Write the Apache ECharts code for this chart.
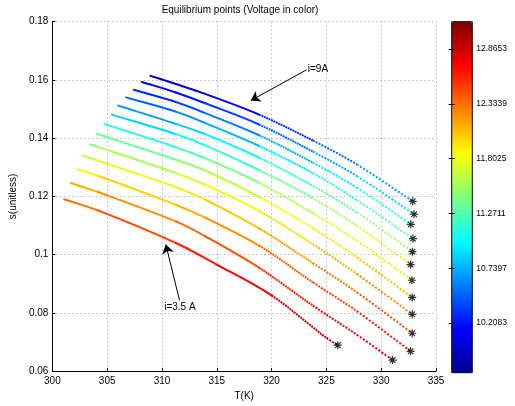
<!DOCTYPE html>
<html><head><meta charset="utf-8">
<script src="https://cdn.jsdelivr.net/npm/echarts@6/dist/echarts.min.js"></script>
<style>html,body{margin:0;padding:0;background:#fff}#c{width:515px;height:406px}</style>
</head><body><div id="c"></div>
<script>
// Temperature (K) of sampled points along each equilibrium curve (top curve i=9A ... bottom curve i=3.5A)
const curveT = [
  [308.95, 311.27, 313.94, 318.86, 323.76, 327.77, 332.88],
  [308.17, 311.27, 313.94, 318.86, 323.76, 327.77, 333.00],
  [307.43, 311.27, 313.94, 318.86, 323.76, 327.77, 332.70],
  [306.74, 311.27, 313.94, 318.86, 323.76, 327.77, 332.90],
  [306.00, 311.27, 313.94, 318.86, 323.76, 327.77, 332.85],
  [305.44, 311.27, 313.94, 318.86, 323.76, 327.77, 332.68],
  [304.75, 311.27, 313.94, 318.86, 323.76, 327.77, 332.80],
  [304.04, 311.27, 313.94, 318.86, 323.76, 327.77, 332.83],
  [303.44, 304.16, 311.27, 313.94, 318.86, 323.76, 327.77, 332.83],
  [302.79, 304.16, 311.27, 313.94, 318.86, 323.76, 327.77, 332.83],
  [302.28, 304.16, 311.27, 313.94, 318.86, 323.76, 327.77, 332.68],
  [301.66, 304.16, 311.27, 313.94, 318.86, 323.76, 327.77, 331.04],
  [301.07, 304.16, 311.27, 315.00, 320.00, 325.00, 326.04]
];
// s (unitless) at those points
const curveS = [
  [0.1614, 0.1586, 0.1552, 0.1481, 0.1392, 0.1310, 0.1183],
  [0.1593, 0.1557, 0.1520, 0.1447, 0.1354, 0.1270, 0.1139],
  [0.1566, 0.1524, 0.1486, 0.1410, 0.1316, 0.1230, 0.1104],
  [0.1540, 0.1491, 0.1452, 0.1373, 0.1280, 0.1187, 0.1055],
  [0.1512, 0.1449, 0.1414, 0.1333, 0.1236, 0.1145, 0.1010],
  [0.1481, 0.1414, 0.1375, 0.1290, 0.1194, 0.1099, 0.0966],
  [0.1449, 0.1369, 0.1331, 0.1247, 0.1142, 0.1048, 0.0912],
  [0.1415, 0.1326, 0.1289, 0.1198, 0.1091, 0.0991, 0.0853],
  [0.1378, 0.1370, 0.1280, 0.1240, 0.1150, 0.1036, 0.0934, 0.0795],
  [0.1340, 0.1323, 0.1232, 0.1189, 0.1090, 0.0971, 0.0871, 0.0730],
  [0.1293, 0.1271, 0.1171, 0.1127, 0.1031, 0.0905, 0.0806, 0.0668],
  [0.1246, 0.1215, 0.1114, 0.1063, 0.0955, 0.0825, 0.0725, 0.0638],
  [0.1190, 0.1152, 0.1040, 0.0966, 0.0860, 0.0714, 0.0689]
];
// Voltage (colour) at those points
const curveV = [
  [9.83, 9.92, 10.03, 10.22, 10.42, 10.58, 10.78],
  [10.03, 10.15, 10.25, 10.44, 10.63, 10.78, 10.99],
  [10.20, 10.35, 10.46, 10.65, 10.84, 11.00, 11.19],
  [10.37, 10.55, 10.65, 10.85, 11.04, 11.19, 11.39],
  [10.58, 10.78, 10.88, 11.07, 11.25, 11.41, 11.60],
  [10.75, 10.97, 11.08, 11.27, 11.46, 11.61, 11.80],
  [10.99, 11.22, 11.32, 11.50, 11.68, 11.82, 12.01],
  [11.22, 11.46, 11.55, 11.71, 11.88, 12.01, 12.18],
  [11.43, 11.45, 11.67, 11.76, 11.91, 12.06, 12.19, 12.35],
  [11.63, 11.67, 11.88, 11.96, 12.11, 12.25, 12.37, 12.52],
  [11.85, 11.91, 12.10, 12.17, 12.31, 12.44, 12.55, 12.69],
  [12.08, 12.14, 12.32, 12.39, 12.51, 12.64, 12.74, 12.82],
  [12.28, 12.37, 12.57, 12.67, 12.82, 12.96, 12.99]
];
const colorbarTicks = [10.2083, 10.7397, 11.2711, 11.8025, 12.3339, 12.8653];
const voltageMin = 9.726, voltageMax = 13.13;
// annotations: label, arrow tail [T, s], arrow tip [T, s], text anchor [T, s]
const annoLabels = ['i=9A', 'i=3.5 A'];
const annoTail = [[323.2, 0.1635], [311.6, 0.0843]];
const annoTip = [[318.1, 0.1529], [310.35, 0.1035]];
const annoText = [[323.3, 0.1635], [310.2, 0.0821]];

const jet = ['#00008F','#0000FF','#0080FF','#00FFFF','#80FF80','#FFFF00','#FF8000','#FF0000','#800000'];
const FONT = 'Liberation Sans, Arial, Helvetica, sans-serif';

// each segment carries its neighbours so it can be drawn as a smooth (Hermite) piece
const segments = [];
curveT.forEach((Ts, k) => {
  const Ss = curveS[k], Vs = curveV[k], n = Ts.length;
  for (let i = 0; i < n - 1; i++) {
    const a = Math.max(i - 1, 0), d = Math.min(i + 2, n - 1);
    segments.push([Ts[a], Ss[a], Ts[i], Ss[i], Ts[i + 1], Ss[i + 1], Ts[d], Ss[d], (Vs[i] + Vs[i + 1]) / 2]);
  }
});
const endPoints = curveT.map((Ts, k) => [Ts[Ts.length - 1], curveS[k][Ts.length - 1]]);

const chart = echarts.init(document.getElementById('c'), null, {renderer: 'canvas'});
const gridLine = {show: true, lineStyle: {color: '#9a9a9a', type: [1, 3], width: 1}};
const slope = (a, b) => (b[1] - a[1]) / (b[0] - a[0]);
chart.setOption({
  animation: false,
  textStyle: {fontFamily: FONT},
  graphic: [{
    type: 'text', x: 240, y: 10,
    style: {text: 'Equilibrium points (Voltage in color)', font: '10px ' + FONT, fill: '#000', textAlign: 'center', textVerticalAlign: 'middle'}
  }],
  grid: [
    {left: 43.7, right: 79, top: 21.7, bottom: 33.3, containLabel: false},
    {left: 451.7, top: 21.7, width: 20.6, height: 351, show: true, borderColor: '#000', borderWidth: 1, z: 10, backgroundColor: 'transparent'}
  ],
  xAxis: [
    {type: 'value', gridIndex: 0, min: 300, max: 335, interval: 5,
     name: 'T(K)', nameLocation: 'middle', nameGap: 14, nameTextStyle: {fontSize: 10, color: '#000'},
     axisLine: {lineStyle: {color: '#000', width: 1}}, axisTick: {inside: true, length: 3, lineStyle: {color: '#000'}},
     axisLabel: {fontSize: 10, color: '#000', margin: 5}, splitLine: gridLine},
    {type: 'value', gridIndex: 1, show: false, min: 0, max: 1}
  ],
  yAxis: [
    {type: 'value', gridIndex: 0, min: 0.06, max: 0.18, interval: 0.02,
     name: 's(unitless)', nameLocation: 'middle', nameGap: 29, nameTextStyle: {fontSize: 10, color: '#000'},
     axisLine: {show: true, lineStyle: {color: '#000', width: 1}}, axisTick: {show: true, inside: true, length: 3, lineStyle: {color: '#000'}},
     axisLabel: {fontSize: 10, color: '#000', margin: 4}, splitLine: gridLine},
    {type: 'value', gridIndex: 1, min: voltageMin, max: voltageMax, position: 'right', z: 12,
     axisLine: {show: false}, splitLine: {show: false},
     axisTick: {show: true, inside: true, length: 3, customValues: colorbarTicks, lineStyle: {color: '#000'}},
     axisLabel: {fontSize: 8.5, color: '#000', margin: 4, customValues: colorbarTicks, formatter: v => v.toFixed(4)}},
    {type: 'value', gridIndex: 1, min: voltageMin, max: voltageMax, position: 'left', z: 12,
     axisLine: {show: false}, splitLine: {show: false},
     axisTick: {show: true, inside: true, length: 3, customValues: colorbarTicks, lineStyle: {color: '#000'}},
     axisLabel: {show: false}}
  ],
  visualMap: {
    type: 'continuous', min: voltageMin, max: voltageMax, dimension: 8, seriesIndex: 0,
    inRange: {color: jet}, calculable: false, hoverLink: false,
    left: 451.7, top: 21.7, itemWidth: 20.6, itemHeight: 351, padding: 0, text: null
  },
  series: [
    {
      type: 'custom', xAxisIndex: 0, yAxisIndex: 0, data: segments,
      encode: {x: [2, 4], y: [3, 5]},
      renderItem: (params, api) => {
        const p0 = api.coord([api.value(0), api.value(1)]);
        const p1 = api.coord([api.value(2), api.value(3)]);
        const p2 = api.coord([api.value(4), api.value(5)]);
        const p3 = api.coord([api.value(6), api.value(7)]);
        const m1 = slope(p0[0] < p1[0] ? p0 : p1, p2);
        const m2 = slope(p1, p3[0] > p2[0] ? p3 : p2);
        const dx = (p2[0] - p1[0]) / 3;
        const t1 = api.value(2);
        const gap = Math.max(0, (t1 - 314) * 0.13);
        const style = {stroke: api.visual('color'), lineWidth: 2, fill: null,
          lineCap: gap > 0.2 ? 'butt' : 'round'};
        if (gap > 0.2) style.lineDash = [2, gap];
        return {type: 'bezierCurve', shape: {
          x1: p1[0], y1: p1[1], x2: p2[0], y2: p2[1],
          cpx1: p1[0] + dx, cpy1: p1[1] + m1 * dx,
          cpx2: p2[0] - dx, cpy2: p2[1] - m2 * dx
        }, style};
      },
      z: 3
    },
    {
      type: 'scatter', xAxisIndex: 0, yAxisIndex: 0, data: endPoints,
      symbol: 'path://M5,0L5,10M0,5L10,5M1.5,1.5L8.5,8.5M1.5,8.5L8.5,1.5', symbolSize: 8,
      itemStyle: {color: '#000', borderColor: '#000', borderWidth: 1.2}, z: 4,
      markLine: {
        silent: true, animation: false, label: {show: false},
        lineStyle: {color: '#000', width: 1, type: 'solid'},
        data: annoTail.map((t, i) => [
          {coord: t, symbol: 'none'},
          {coord: annoTip[i], symbol: 'arrow', symbolSize: 9}
        ])
      },
      markPoint: {
        silent: true, animation: false, symbol: 'circle', symbolSize: 0,
        data: annoText.map((c, i) => ({coord: c, value: annoLabels[i],
          label: {show: true, position: 'right', distance: 0, formatter: annoLabels[i], fontSize: 10, color: '#000'}}))
      }
    }
  ]
});
</script></body></html>
